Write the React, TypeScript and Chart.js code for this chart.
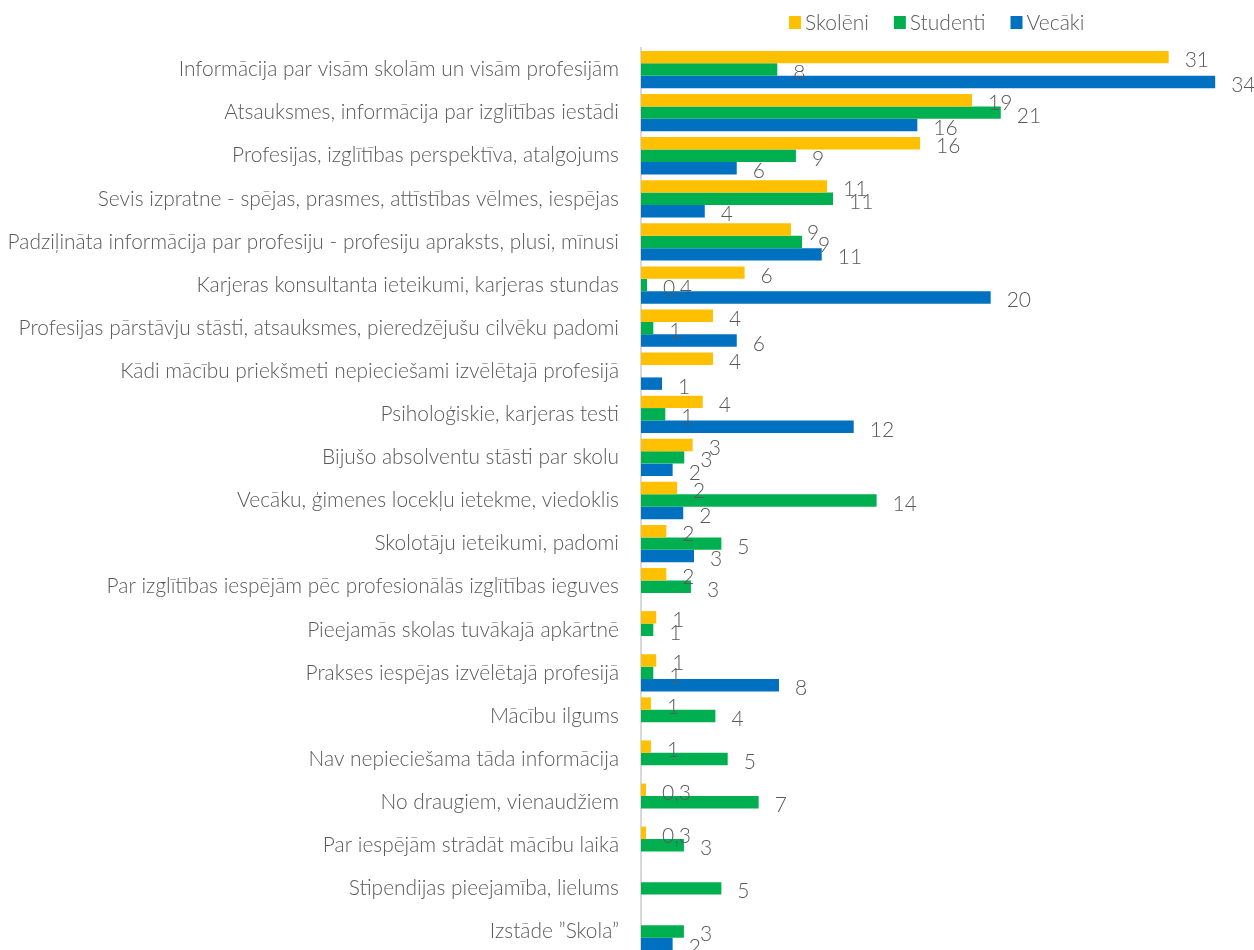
import React, { useEffect, useRef } from "react";
import { Chart, registerables } from "chart.js";

Chart.register(...registerables);

const categories: string[] = [
  "Informācija par visām skolām un visām profesijām",
  "Atsauksmes, informācija par izglītības iestādi",
  "Profesijas, izglītības perspektīva, atalgojums",
  "Sevis izpratne - spējas, prasmes, attīstības vēlmes, iespējas",
  "Padziļināta informācija par profesiju - profesiju apraksts, plusi, mīnusi",
  "Karjeras konsultanta ieteikumi, karjeras stundas",
  "Profesijas pārstāvju stāsti, atsauksmes, pieredzējušu cilvēku padomi",
  "Kādi mācību priekšmeti nepieciešami izvēlētajā profesijā",
  "Psiholoģiskie, karjeras testi",
  "Bijušo absolventu stāsti par skolu",
  "Vecāku, ģimenes locekļu ietekme, viedoklis",
  "Skolotāju ieteikumi, padomi",
  "Par izglītības iespējām pēc profesionālās izglītības ieguves",
  "Pieejamās skolas tuvākajā apkārtnē",
  "Prakses iespējas izvēlētajā profesijā",
  "Mācību ilgums",
  "Nav nepieciešama tāda informācija",
  "No draugiem, vienaudžiem",
  "Par iespējām strādāt mācību laikā",
  "Stipendijas pieejamība, lielums",
  "Izstāde ”Skola”",
];

// Bar lengths
const skoleni: (number | null)[] = [
  30.86, 19.36, 16.32, 10.88, 8.77, 6.06, 4.21, 4.21, 3.61, 3.02, 2.11, 1.48, 1.48, 0.89, 0.89, 0.58, 0.58, 0.29, 0.29, null, null,
];
const studenti: (number | null)[] = [
  7.97, 21.04, 9.06, 11.23, 9.42, 0.35, 0.72, null, 1.42, 2.53, 13.78, 4.7, 2.92, 0.72, 0.72, 4.35, 5.07, 6.88, 2.51, 4.7, 2.51,
];
const vecaki: (number | null)[] = [
  33.58, 16.16, 5.6, 3.73, 10.57, 20.45, 5.6, 1.23, 12.44, 1.85, 2.47, 3.1, null, null, 8.07, null, null, null, null, null, 1.85,
];

// Data labels as printed in the picture
const skoleniLabels: (string | null)[] = [
  "31", "19", "16", "11", "9", "6", "4", "4", "4", "3", "2", "2", "2", "1", "1", "1", "1", "0,3", "0,3", null, null,
];
const studentiLabels: (string | null)[] = [
  "8", "21", "9", "11", "9", "0,4", "1", null, "1", "3", "14", "5", "3", "1", "1", "4", "5", "7", "3", "5", "3",
];
const vecakiLabels: (string | null)[] = [
  "34", "16", "6", "4", "11", "20", "6", "1", "12", "2", "2", "3", null, null, "8", null, null, null, null, null, "2",
];

const seriesNames = ["Skolēni", "Studenti", "Vecāki"];
const seriesColors = ["#FFC000", "#00B050", "#0070C0"];

const FONT = "Lato";
const TEXT_COLOR = "#595959";

const allLabels = [skoleniLabels, studentiLabels, vecakiLabels];

const dataLabelPlugin = {
  id: "dataLabels",
  afterDatasetsDraw(chart: any) {
    const ctx = chart.ctx;
    ctx.save();
    ctx.font = `300 21px ${FONT}`;
    ctx.fillStyle = TEXT_COLOR;
    ctx.textAlign = "left";
    ctx.textBaseline = "alphabetic";
    chart.data.datasets.forEach((ds: any, i: number) => {
      const meta = chart.getDatasetMeta(i);
      meta.data.forEach((el: any, j: number) => {
        const v = ds.data[j];
        const t = allLabels[i][j];
        if (v === null || v === undefined || !t) return;
        ctx.fillText(t, el.x + 16, el.y + 10);
      });
    });
    ctx.restore();
  },
};

const legendPlugin = {
  id: "customLegend",
  afterDraw(chart: any) {
    const ctx = chart.ctx;
    ctx.save();
    ctx.font = `300 21px ${FONT}`;
    ctx.textBaseline = "alphabetic";
    ctx.textAlign = "left";
    let x = 789;
    const yBox = 16;
    chart.data.datasets.forEach((ds: any) => {
      ctx.fillStyle = ds.backgroundColor;
      ctx.fillRect(x, yBox, 12, 13);
      ctx.fillStyle = TEXT_COLOR;
      ctx.fillText(ds.label, x + 16, 30);
      x += 16 + ctx.measureText(ds.label).width + 25;
    });
    ctx.restore();
  },
};

export default function App() {
  const canvasRef = useRef<HTMLCanvasElement | null>(null);

  useEffect(() => {
    if (!canvasRef.current) return;
    const seriesData = [skoleni, studenti, vecaki];
    const chart = new Chart(canvasRef.current, {
      type: "bar",
      data: {
        labels: categories,
        datasets: seriesData.map((d, i) => ({
          label: seriesNames[i],
          data: d,
          backgroundColor: seriesColors[i],
          borderWidth: 0,
          categoryPercentage: 0.865,
          barPercentage: 1,
        })),
      },
      options: {
        indexAxis: "y",
        animation: false,
        responsive: false,
        maintainAspectRatio: false,
        layout: { padding: { top: 48, left: 0, right: 0, bottom: 0 } },
        plugins: {
          legend: { display: false },
          tooltip: { enabled: false },
          title: { display: false },
        },
        scales: {
          x: {
            display: false,
            min: 0,
            max: 35.85,
            grid: { display: false },
          },
          y: {
            afterFit(scale: any) {
              scale.width = 641;
              scale.paddingTop = 0;
              scale.paddingBottom = 0;
            },
            grid: { display: false, drawTicks: false },
            border: { display: true, color: "#D9D9D9", width: 2 },
            ticks: {
              autoSkip: false,
              padding: 22,
              color: TEXT_COLOR,
              font: { family: FONT, size: 20.9, weight: "300" },
            },
          },
        },
      },
      plugins: [dataLabelPlugin, legendPlugin],
    } as any);
    return () => chart.destroy();
  }, []);

  return (
    <div
      style={{
        position: "fixed",
        left: 0,
        top: 0,
        width: 1254,
        height: 950,
        overflow: "hidden",
        background: "#fff",
      }}
    >
      <canvas
        ref={canvasRef}
        width={1254}
        height={953}
        style={{ width: 1254, height: 953, display: "block" }}
      />
    </div>
  );
}
